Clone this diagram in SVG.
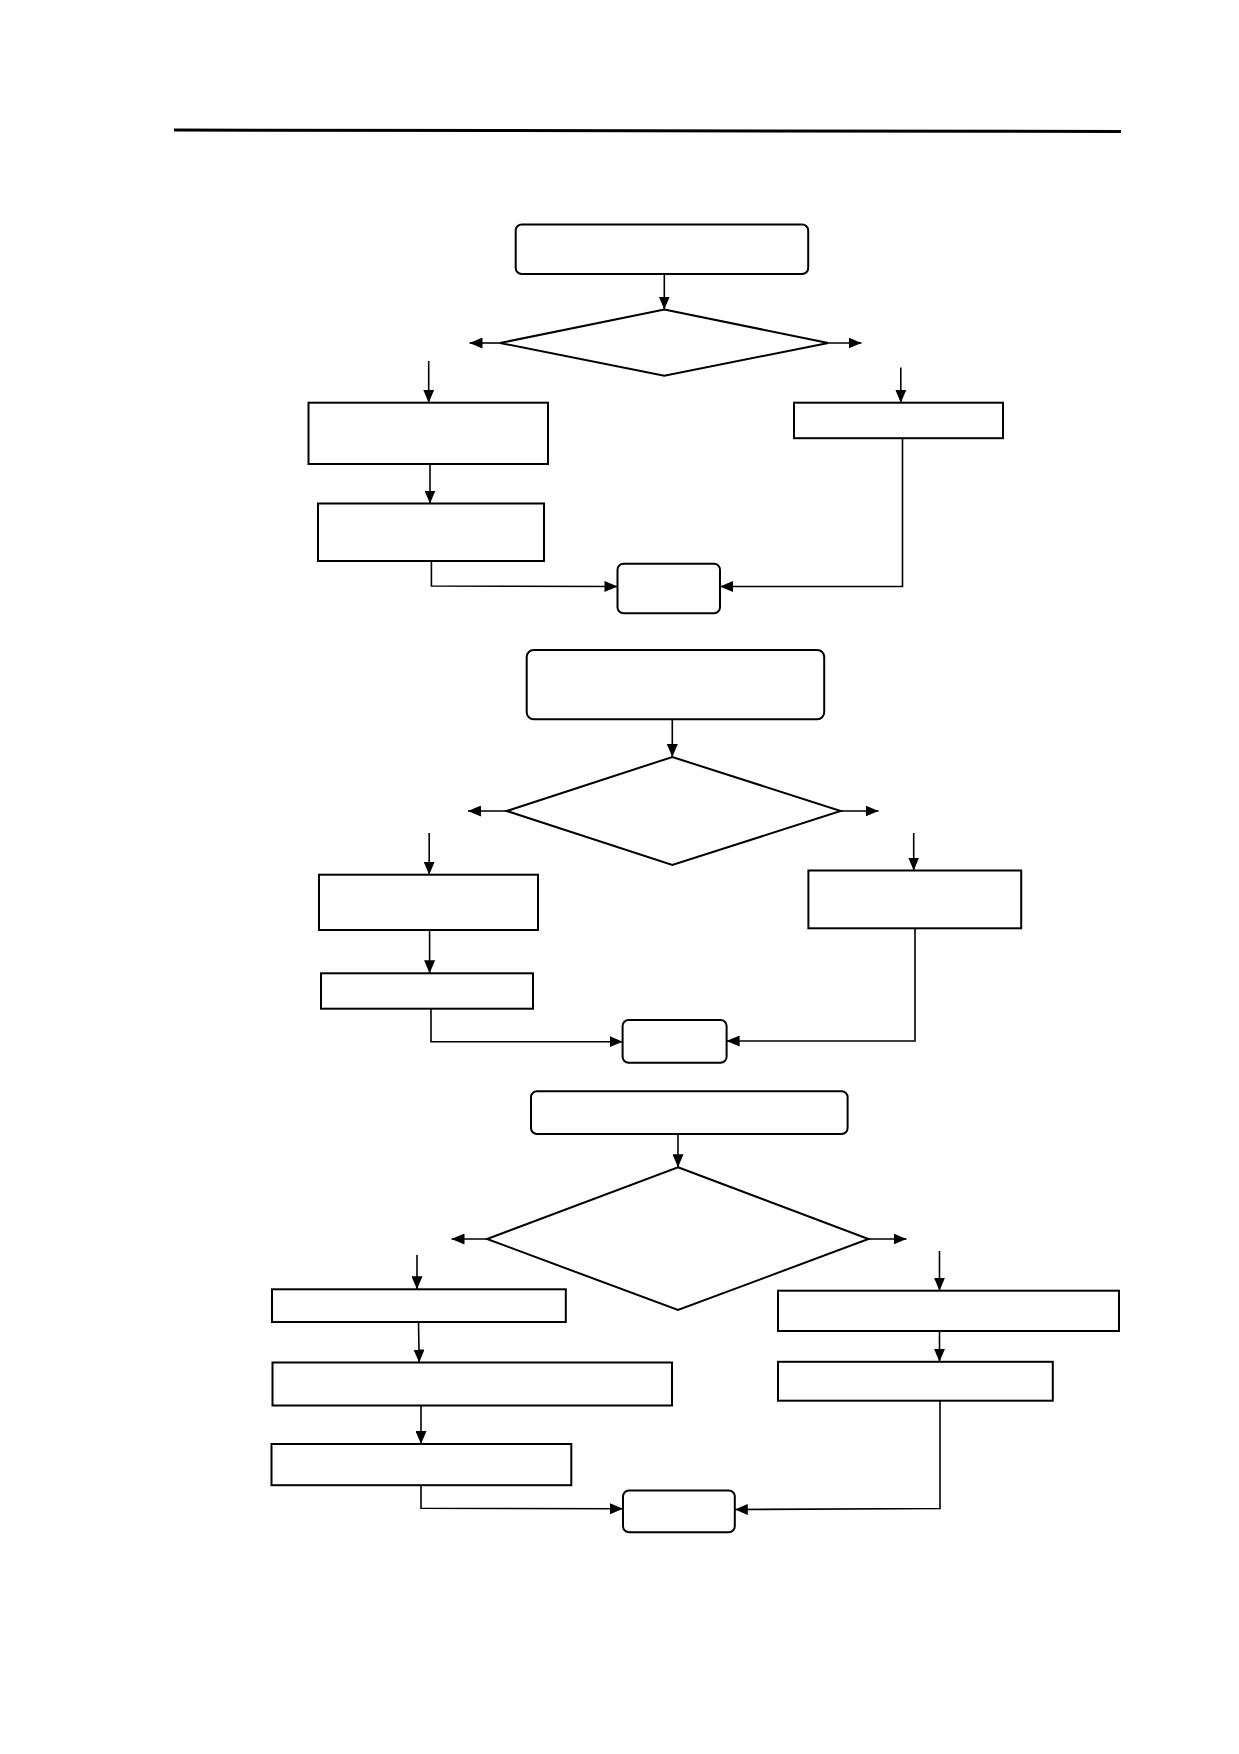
<svg xmlns="http://www.w3.org/2000/svg" width="1239" height="1754" viewBox="0 0 1239 1754">
<style>
.box{fill:#fff;stroke:#000;stroke-width:2}
.c{fill:none;stroke:#000;stroke-width:1.6}
</style>
<defs>
<marker id="ah" markerUnits="userSpaceOnUse" markerWidth="13" markerHeight="11" refX="13" refY="5.5" orient="auto">
<path d="M0,0 L13,5.5 L0,11 z" fill="#000"/>
</marker>
</defs>
<rect width="1239" height="1754" fill="#fff"/>
<line x1="174" y1="130" x2="1121" y2="131.5" stroke="#000" stroke-width="3"/>

<g id="n1-start"><rect class="box" x="515.7" y="224.5" width="292.5" height="49.5" rx="6"/></g>
<g id="n1-dec"><polygon class="box" points="664.3,309.5 828.3,343 664.3,375.7 500,343"/></g>
<g id="n1-l1"><rect class="box" x="308.5" y="402.7" width="239.5" height="61.3"/></g>
<g id="n1-l2"><rect class="box" x="318" y="503.5" width="226" height="57.5"/></g>
<g id="n1-r1"><rect class="box" x="794" y="402.7" width="209" height="35.5"/></g>
<g id="n1-end"><rect class="box" x="617.5" y="563.7" width="102.5" height="49.5" rx="6"/></g>

<g id="n2-start"><rect class="box" x="526.7" y="650" width="297.5" height="69.3" rx="7"/></g>
<g id="n2-dec"><polygon class="box" points="672.3,757 840.7,811 672.3,865 506.7,811"/></g>
<g id="n2-l1"><rect class="box" x="319" y="874.7" width="219" height="55.3"/></g>
<g id="n2-l2"><rect class="box" x="321" y="973.3" width="212" height="35.4"/></g>
<g id="n2-r1"><rect class="box" x="808.4" y="870.5" width="212.8" height="57.8"/></g>
<g id="n2-end"><rect class="box" x="622.6" y="1020" width="104" height="42.7" rx="6"/></g>

<g id="n3-start"><rect class="box" x="531" y="1091.2" width="316.6" height="42.8" rx="6"/></g>
<g id="n3-dec"><polygon class="box" points="678,1167.3 868.5,1239 678,1310 487,1239"/></g>
<g id="n3-l1"><rect class="box" x="272" y="1289.3" width="293.8" height="32.7"/></g>
<g id="n3-l2"><rect class="box" x="272.5" y="1362.5" width="399.5" height="43"/></g>
<g id="n3-l3"><rect class="box" x="271.5" y="1444" width="299.8" height="41.2"/></g>
<g id="n3-r1"><rect class="box" x="778" y="1290.7" width="341" height="40.3"/></g>
<g id="n3-r2"><rect class="box" x="778" y="1361.8" width="274.8" height="38.9"/></g>
<g id="n3-end"><rect class="box" x="623" y="1490.5" width="111.8" height="41.8" rx="6"/></g>

<g id="connectors">
<line class="c" x1="664.3" y1="274" x2="664.3" y2="309.5" marker-end="url(#ah)"/>
<line class="c" x1="500" y1="343" x2="469.5" y2="343" marker-end="url(#ah)"/>
<line class="c" x1="828.3" y1="343" x2="861.5" y2="343" marker-end="url(#ah)"/>
<line class="c" x1="428.7" y1="361" x2="428.7" y2="402.7" marker-end="url(#ah)"/>
<line class="c" x1="430" y1="464" x2="430" y2="503.5" marker-end="url(#ah)"/>
<polyline class="c" points="431.4,561 431.4,586 617.5,586.5" marker-end="url(#ah)"/>
<line class="c" x1="900.8" y1="367.5" x2="900.8" y2="402.7" marker-end="url(#ah)"/>
<polyline class="c" points="902.5,438.2 902.5,586.5 720,586.5" marker-end="url(#ah)"/>

<line class="c" x1="672.3" y1="719.3" x2="672.3" y2="757" marker-end="url(#ah)"/>
<line class="c" x1="506.7" y1="811" x2="468" y2="811" marker-end="url(#ah)"/>
<line class="c" x1="840.7" y1="811" x2="878.5" y2="811" marker-end="url(#ah)"/>
<line class="c" x1="429.2" y1="833" x2="429.2" y2="874.7" marker-end="url(#ah)"/>
<line class="c" x1="429.6" y1="930" x2="429.6" y2="973.3" marker-end="url(#ah)"/>
<polyline class="c" points="431,1008.7 431,1041.7 622.6,1041.7" marker-end="url(#ah)"/>
<line class="c" x1="913.7" y1="833" x2="913.7" y2="870.5" marker-end="url(#ah)"/>
<polyline class="c" points="915,928.3 915,1041 726.6,1041" marker-end="url(#ah)"/>

<line class="c" x1="678" y1="1134" x2="678" y2="1167.3" marker-end="url(#ah)"/>
<line class="c" x1="487" y1="1239" x2="451.5" y2="1239" marker-end="url(#ah)"/>
<line class="c" x1="868.5" y1="1239" x2="906.5" y2="1239" marker-end="url(#ah)"/>
<line class="c" x1="417" y1="1255" x2="417" y2="1289.3" marker-end="url(#ah)"/>
<line class="c" x1="418.5" y1="1322" x2="419.2" y2="1362.5" marker-end="url(#ah)"/>
<line class="c" x1="421" y1="1405.5" x2="421" y2="1444" marker-end="url(#ah)"/>
<polyline class="c" points="421,1485.2 421,1508.3 623,1508.8" marker-end="url(#ah)"/>
<line class="c" x1="939.5" y1="1251" x2="939.5" y2="1290.7" marker-end="url(#ah)"/>
<line class="c" x1="939.5" y1="1331" x2="939.5" y2="1361.8" marker-end="url(#ah)"/>
<polyline class="c" points="940,1400.7 940,1508.5 734.8,1509.5" marker-end="url(#ah)"/>
</g>
</svg>
